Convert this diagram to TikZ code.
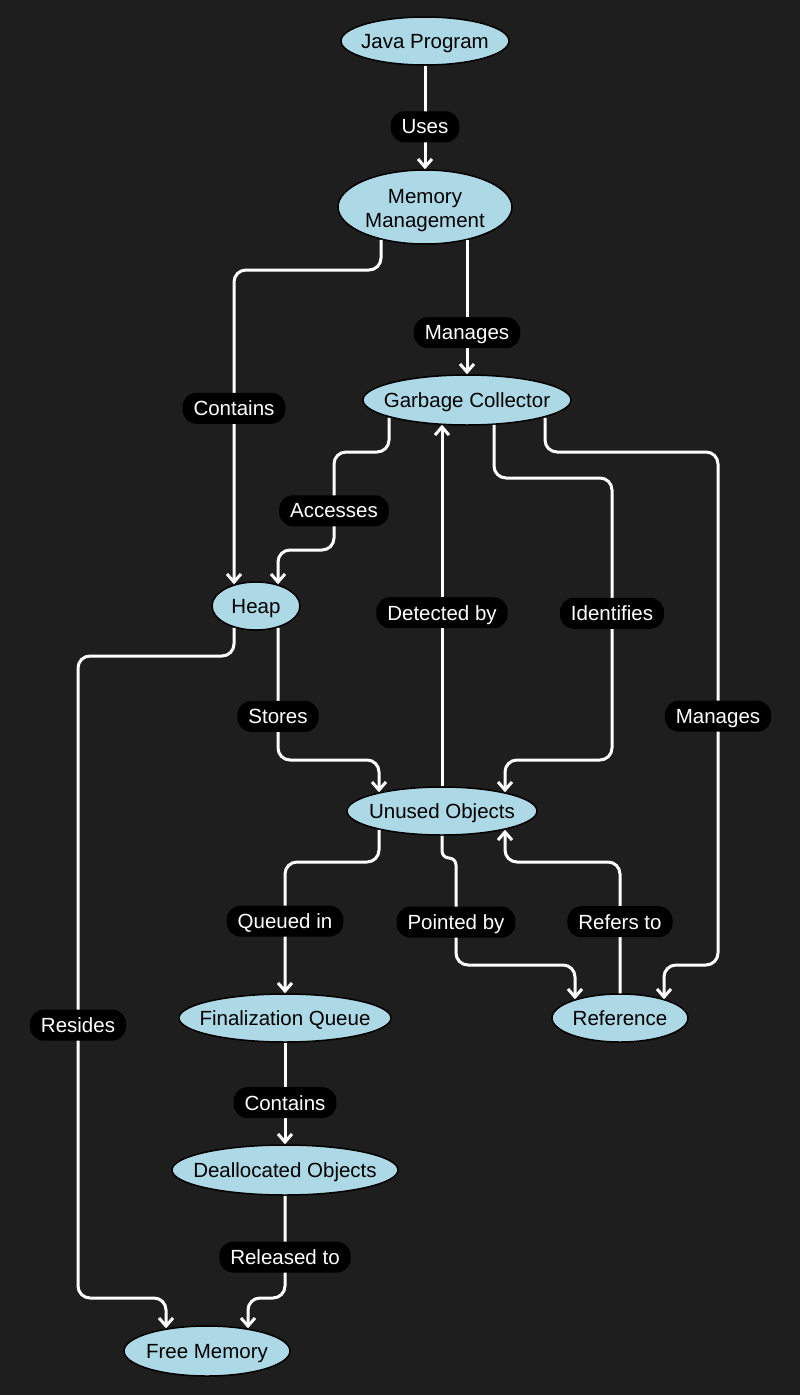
\documentclass[tikz,border=0pt]{standalone}
\usepackage{fontspec}
\setmainfont{Liberation Sans}
\usetikzlibrary{arrows.meta,positioning,calc,shapes.geometric}
\definecolor{bgdark}{HTML}{1E1E1E}
\definecolor{nodeblue}{HTML}{ADD8E6}

\begin{document}
\begin{tikzpicture}[x=1pt, y=-1pt, font=\fontsize{20.5}{24}\selectfont, >={Straight Barb[length=8pt,width=14pt]}]
\tikzstyle{ent}=[draw=black, line width=1.5pt, fill=nodeblue, ellipse, inner sep=0pt, text depth=0pt, text=black]
\tikzstyle{lbl}=[fill=black, text=white, rounded corners=14pt, minimum height=31pt, inner xsep=11pt, inner ysep=0pt, text depth=0pt]
\tikzstyle{edge}=[->, draw=white, line width=3pt, rounded corners=12pt]
\fill[bgdark] (0,0) rectangle (800,1395);
\useasboundingbox (0,0) rectangle (800,1395);

% entities
\node[ent, minimum width=168, minimum height=48] (java) at (425,41) {\makebox[0pt]{Java Program}};
\node[ent, minimum width=174, minimum height=74] (mm) at (425,207) {\makebox[0pt]{\raisebox{12pt}{\begin{tabular}{@{}c@{}}Memory\\Management\end{tabular}}}};
\node[ent, minimum width=208, minimum height=50] (gc) at (467,400) {\makebox[0pt]{Garbage Collector}};
\node[ent, minimum width=88, minimum height=48] (hp) at (256,606) {\makebox[0pt]{Heap}};
\node[ent, minimum width=190, minimum height=48] (uo) at (442,811) {\makebox[0pt]{Unused Objects}};
\node[ent, minimum width=212, minimum height=48] (fq) at (285,1018) {\makebox[0pt]{Finalization Queue}};
\node[ent, minimum width=226, minimum height=50] (da) at (285,1170) {\makebox[0pt]{Deallocated Objects}};
\node[ent, minimum width=136, minimum height=48] (ref) at (620,1018) {\makebox[0pt]{Reference}};
\node[ent, minimum width=166, minimum height=50] (fm) at (207,1351) {\makebox[0pt]{Free Memory}};

% connectors
\draw[edge] (java.south) -- node[lbl, pos=0.59]{Uses} (mm.north);
\draw[edge] ([shift={(-44,-5)}]mm.south) -- (381,270) -- (234,270) -- node[lbl, pos=0.44]{Contains} ([shift={(-22,3)}]hp.north);
\draw[edge] ([shift={(42,-5)}]mm.south) -- node[lbl, pos=0.69]{Manages} (gc.north);
\draw[edge] ([shift={(-78,-8)}]gc.south) -- (389,452) -- (334,452) -- node[lbl, pos=0.6]{Accesses} (334,550) -- (278,550) -- ([shift={(22,3)}]hp.north);
\draw[edge] ([shift={(-22,-3)}]hp.south) -- (234,656) -- (78,656) -- node[lbl, pos=0.575]{Resides} (78,1298) -- (166,1298) -- ([shift={(-41,3)}]fm.north);
\draw[edge] ([shift={(22,-3)}]hp.south) -- node[lbl, pos=0.67]{Stores} (278,760) -- (379,760) -- ([shift={(-63,6)}]uo.north);
\draw[edge] (uo.north) -- node[lbl, pos=0.48]{Detected by} ([shift={(-25,-1)}]gc.south);
\draw[edge] ([shift={(27,-1)}]gc.south) -- (494,478) -- (612,478) -- node[lbl, pos=0.48]{Identifies} (612,760) -- (505,760) -- ([shift={(63,6)}]uo.north);
\draw[edge] ([shift={(78,-8)}]gc.south) -- (545,452) -- (718,452) -- node[lbl, pos=0.515]{Manages} (718,965) -- (664,965) -- ([shift={(44,6)}]ref.north);
\draw[edge] ([shift={(-63,-6)}]uo.south) -- (379,862) -- (285,862) -- node[lbl, pos=0.45]{Queued in} (fq.north);
\draw[edge, rounded corners=7pt] (uo.south) -- (442,858) -- (456,858) [rounded corners=12pt] -- node[lbl, pos=0.6]{Pointed by} (456,965) -- (575,965) -- ([shift={(-45,6)}]ref.north);
\draw[edge] (ref.north) -- node[lbl, pos=0.545]{Refers to} (620,862) -- (505,862) -- ([shift={(63,-6)}]uo.south);
\draw[edge] (fq.south) -- node[lbl, pos=0.59]{Contains} (da.north);
\draw[edge] (da.south) -- node[lbl, pos=0.6]{Released to} (285,1298) -- (248,1298) -- ([shift={(41,3)}]fm.north);
\end{tikzpicture}
\end{document}
